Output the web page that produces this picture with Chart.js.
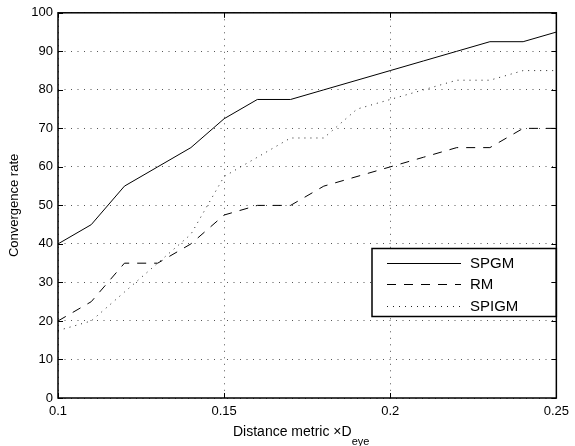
<!DOCTYPE html>
<html>
<head>
<meta charset="utf-8">
<script src="https://cdn.jsdelivr.net/npm/chart.js@4/dist/chart.umd.min.js"></script>
<style>
  html, body { margin: 0; padding: 0; background: #fff; }
  #wrap { width: 575px; height: 446px; }
</style>
</head>
<body>
<div id="wrap"><canvas id="myChart" width="575" height="446"></canvas></div>
<script>
// distancia (x) y tasas de convergencia por metodo
const distancia = [0.10, 0.11, 0.12, 0.13, 0.14, 0.15, 0.16, 0.17, 0.18, 0.19, 0.20, 0.21, 0.22, 0.23, 0.24, 0.25];
const spgm  = [40, 45, 55, 60, 65, 72.5, 77.5, 77.5, 80, 82.5, 85, 87.5, 90, 92.5, 92.5, 95];
const rm    = [20, 25, 35, 35, 40, 47.5, 50, 50, 55, 57.5, 60, 62.5, 65, 65, 70, 70];
const spigm = [17.5, 20, 27.5, 35, 42.5, 57.5, 62.5, 67.5, 67.5, 75, 77.5, 80, 82.5, 82.5, 85, 85];
const nombres = ['SPGM', 'RM', 'SPIGM'];
const xTicks = [0.1, 0.15, 0.2, 0.25];

const FUENTE = '"Liberation Sans", Arial, Helvetica, sans-serif';

function puntos(ys) {
    return distancia.map((x, i) => ({ x, y: ys[i] }));
}

// marco + marcas de tick hacia adentro (estilo matlab)
const marco = {
    id: 'marco',
    afterDraw(chart) {
        const { ctx, chartArea: a, scales } = chart;
        ctx.save();
        ctx.strokeStyle = '#000';
        ctx.lineWidth = 1;
        ctx.setLineDash([]);
        const len = 5;
        ctx.beginPath();
        scales.y.ticks.forEach(t => {
            const y = Math.round(scales.y.getPixelForValue(t.value)) + 0.5;
            ctx.moveTo(a.left, y); ctx.lineTo(a.left + len, y);
            ctx.moveTo(a.right, y); ctx.lineTo(a.right - len, y);
        });
        xTicks.forEach(v => {
            const x = Math.round(scales.x.getPixelForValue(v)) + 0.5;
            ctx.moveTo(x, a.bottom); ctx.lineTo(x, a.bottom - len);
            ctx.moveTo(x, a.top); ctx.lineTo(x, a.top + len);
        });
        ctx.stroke();
        ctx.lineWidth = 1.5;
        ctx.strokeRect(a.left, a.top, a.right - a.left, a.bottom - a.top);
        ctx.restore();
    }
};

// leyenda dentro del area
const leyenda = {
    id: 'leyenda',
    afterDatasetsDraw(chart) {
        const ctx = chart.ctx;
        const a = chart.chartArea;
        const x0 = 372, y0 = 248.5, w = a.right - x0, h = 68;
        ctx.save();
        ctx.fillStyle = '#fff';
        ctx.fillRect(x0, y0, w, h);
        ctx.strokeStyle = '#000';
        ctx.lineWidth = 1.5;
        ctx.strokeRect(x0, y0, w, h);
        ctx.font = '15px ' + FUENTE;
        ctx.textBaseline = 'middle';
        chart.data.datasets.forEach((ds, i) => {
            const y = 262.5 + i * 21.7;
            ctx.beginPath();
            ctx.lineWidth = 1;
            ctx.strokeStyle = ds.borderColor;
            ctx.setLineDash(ds.borderDash || []);
            ctx.moveTo(387, Math.round(y) + 0.5);
            ctx.lineTo(461, Math.round(y) + 0.5);
            ctx.stroke();
            ctx.setLineDash([]);
            ctx.fillStyle = '#000';
            ctx.fillText(ds.label, 470, y + 1);
        });
        ctx.restore();
    }
};

// titulo del eje x con subindice
const tituloX = {
    id: 'tituloX',
    afterDraw(chart) {
        const ctx = chart.ctx;
        const txt = 'Distance metric \u00d7D';
        const sub = 'eye';
        ctx.save();
        ctx.fillStyle = '#000';
        ctx.textBaseline = 'middle';
        ctx.font = '14px ' + FUENTE;
        const w1 = ctx.measureText(txt).width;
        ctx.fillText(txt, 233, 432);
        ctx.font = '11px ' + FUENTE;
        ctx.fillText(sub, 233 + w1, 441.5);
        ctx.restore();
    }
};

const ctx = document.getElementById('myChart').getContext('2d');
new Chart(ctx, {
    type: 'line',
    data: {
        datasets: [
            { label: nombres[0], data: puntos(spgm),  borderDash: [],     borderColor: '#000' },
            { label: nombres[1], data: puntos(rm),    borderDash: [9, 8], borderColor: '#000' },
            { label: nombres[2], data: puntos(spigm), borderDash: [1, 5], borderColor: '#222' }
        ].map(d => Object.assign(d, {
            borderWidth: 1,
            pointRadius: 0,
            tension: 0,
            fill: false
        }))
    },
    options: {
        responsive: false,
        animation: false,
        layout: { padding: { top: 8, right: 15, left: 0, bottom: 0 } },
        plugins: {
            legend: { display: false },
            tooltip: { enabled: false }
        },
        scales: {
            x: {
                type: 'linear',
                min: 0.1,
                max: 0.25,
                afterBuildTicks: s => { s.ticks = xTicks.map(v => ({ value: v })); },
                afterFit: s => { s.height = 48; },
                ticks: {
                    color: '#000',
                    font: { size: 13, family: FUENTE },
                    padding: 6,
                    maxRotation: 0,
                    callback: v => String(+v.toFixed(2))
                },
                grid: { color: '#555', drawTicks: false, lineWidth: 1 },
                border: { display: false, dash: [1, 5.5] }
            },
            y: {
                min: 0,
                max: 100,
                afterFit: s => { s.width = 58; },
                ticks: {
                    stepSize: 10,
                    color: '#000',
                    font: { size: 13, family: FUENTE },
                    padding: 5
                },
                grid: { color: '#555', drawTicks: false, lineWidth: 1 },
                border: { display: false, dash: [1, 5.5] },
                title: {
                    display: true,
                    text: 'Convergence rate',
                    color: '#000',
                    font: { size: 13, family: FUENTE },
                    padding: { top: 7, bottom: 0 }
                }
            }
        }
    },
    plugins: [leyenda, marco, tituloX]
});
</script>
</body>
</html>
